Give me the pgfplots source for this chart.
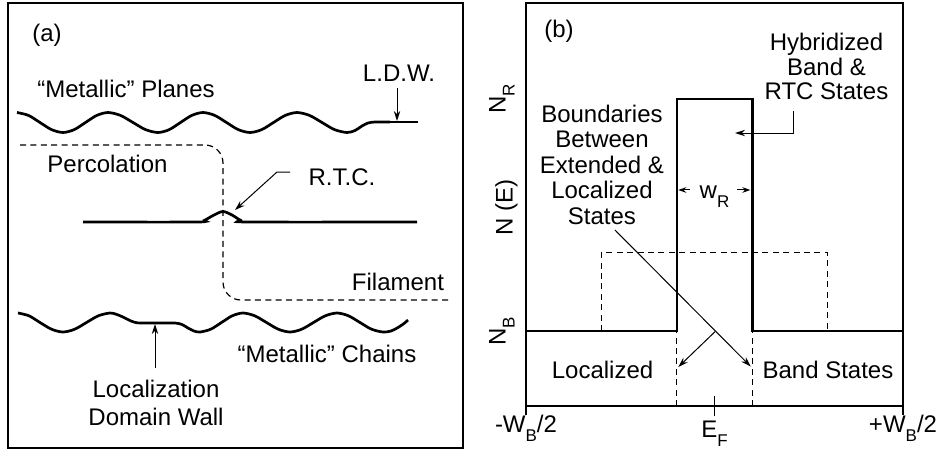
\documentclass[border=0pt]{standalone}
\usepackage{fontspec}
\setmainfont{Liberation Sans}
\usepackage{pgfplots}
\pgfplotsset{compat=1.18}
\usetikzlibrary{arrows.meta}
\newcommand\sub[1]{\raisebox{-4.5pt}{\fontsize{8.5}{9}\selectfont #1}}
\begin{document}
\fontsize{12}{13}\selectfont
\begin{tikzpicture}[font=\fontsize{12}{13}\selectfont]
\useasboundingbox (0,0) rectangle (470.5pt,-227.5pt);
% ---------------- panel (a) ----------------
\begin{axis}[at={(4pt,-1.5pt)}, anchor=north west, scale only axis,
  width=227.5pt, height=222.5pt, xmin=8, xmax=463, ymin=3, ymax=448,
  y dir=reverse, xtick=\empty, ytick=\empty,
  axis line style={line width=0.8pt}, clip=false]
% "Metallic" planes
\addplot[line width=1.35pt, smooth, tension=0.5] coordinates {
 (17,112.5)(28.5,115.4)(40,122.5)(51.5,129.6)(63,132.5)
 (74.25,129.6)(85.5,122.5)(96.75,115.4)(108,112.5)
 (120.5,115.4)(133,122.5)(145.5,129.6)(158,132.5)
 (169.25,129.6)(180.5,122.5)(191.75,115.4)(203,112.5)
 (214.75,115.4)(226.5,122.5)(238.25,129.6)(250,132.5)
 (261.75,129.6)(273.5,122.5)(285.25,115.4)(297,112.5)
 (309.5,115.4)(322,122.5)(334.5,129.6)(347,132.5)
 (355,130.5)(362,126)(368,123)(375,122)(390,122)};
\addplot[line width=1.35pt] coordinates {(390,122)(418,122)};
% L.D.W. arrow
\addplot[line width=0.5pt, -{Stealth[length=5pt,width=3.2pt]}] coordinates {(397,88)(397,121)};
% percolation / filament dashed path
\addplot[line width=0.6pt, dash pattern=on 3pt off 2.2pt, rounded corners=9pt] coordinates {(20,145)(223,145)(223,300)(452,300)};
% R.T.C. line
\addplot[line width=1.35pt, smooth, tension=0.5] coordinates {
 (83,222)(196,222)(204,220.5)(214,215)(223,211.5)(232,215)(241,220.5)(250,222)(417,222)};
\addplot[line width=0.5pt, -{Stealth[length=5pt,width=3.2pt]}] coordinates {(290,172)(277,172)(235,210)};
% "Metallic" chains
\addplot[line width=1.35pt, smooth, tension=0.5] coordinates {
 (18,313)(29,315.8)(40,322.5)(51.5,329.2)(63,332)
 (74.75,329.2)(86.5,322.5)(98.25,315.8)(110,313)
 (117,314.5)(124,317.5)(131,321)(137,322.8)(145,323)(160,323)(175,323)
 (182,324.5)(188,328)(194,331)(200,332)
 (210.75,329.2)(221.5,322.5)(232.25,315.8)(243,313)
 (254.75,315.8)(266.5,322.5)(278.25,329.2)(290,332)
 (301.75,329.2)(313.5,322.5)(325.25,315.8)(337,313)
 (348.5,315.8)(360,322.5)(371.5,329.2)(383,332)
 (391,331)(398,327.5)(404,323.5)(408,320)};
% domain wall arrow
\addplot[line width=0.5pt, -{Stealth[length=5pt,width=3.2pt]}] coordinates {(155,368)(155,324)};
% labels
\node[inner sep=0] at (axis cs:47,35) {(a)};
\node[inner sep=0] at (axis cs:126,89) {``Metallic'' Planes};
\node[inner sep=0] at (axis cs:399,73) {L.D.W.};
\node[inner sep=0] at (axis cs:107.5,163.5) {Percolation};
\node[inner sep=0] at (axis cs:342,177) {R.T.C.};
\node[inner sep=0] at (axis cs:398,281.5) {Filament};
\node[inner sep=0] at (axis cs:327,353.5) {``Metallic'' Chains};
\node[inner sep=0, align=center, font=\fontsize{12}{14}\selectfont] at (axis cs:156,402.5) {Localization\\Domain Wall};
\end{axis}
% ---------------- panel (b) ----------------
\begin{axis}[at={(263pt,-1.5pt)}, anchor=north west, scale only axis,
  width=188.5pt, height=201.5pt, xmin=-1, xmax=1, ymin=0, ymax=1,
  axis line style={line width=0.75pt},
  xtick={-1,1}, xticklabels={-W\sub{B}/2,+W\sub{B}/2},
  extra x ticks={0}, extra x tick labels={E\sub{F}},
  extra x tick style={tick align=center, major tick length=10pt,
     xticklabel style={yshift=-2pt}},
  xtick pos=bottom, ytick pos=left, tick align=outside, major tick length=4.5pt,
  tick style={line width=0.6pt, black},
  xticklabel style={anchor=base, yshift=-8.5pt},
  ytick={0.186,0.762}, yticklabels={N\sub{B},N\sub{R}},
  ytick style={draw=none},
  yticklabel style={xshift=3pt, rotate=90, anchor=south},
  clip=false]
% hybridized DOS (solid)
\addplot[line width=1.3pt] coordinates {(-1,0.186)(-0.2,0.186)(-0.2,0.762)(0.2,0.762)(0.2,0.186)(1,0.186)};
% pure band DOS (dashed)
\addplot[line width=0.6pt, dash pattern=on 3pt off 2.2pt] coordinates {(-0.6,0.186)(-0.6,0.38)(0.6,0.38)(0.6,0.186)};
\addplot[line width=0.6pt, dash pattern=on 3pt off 2.2pt] coordinates {(-0.2,0)(-0.2,0.186)};
\addplot[line width=0.6pt, dash pattern=on 3pt off 2.2pt] coordinates {(0.2,0)(0.2,0.186)};
% annotation arrows
\addplot[line width=0.5pt, -{Stealth[length=5pt,width=3.2pt]}] coordinates {(0.4164,0.732)(0.4164,0.6774)(0.109,0.6774)};
\addplot[line width=0.5pt, -{Stealth[length=5pt,width=3.2pt]}] coordinates {(-0.528,0.4367)(0.192,0.098)};
\addplot[line width=0.5pt, -{Stealth[length=5pt,width=3.2pt]}] coordinates {(0.0027,0.1844)(-0.192,0.0968)};
\addplot[line width=0.5pt, -{Stealth[length=4pt,width=2.8pt]}] coordinates {(-0.13,0.536)(-0.192,0.536)};
\addplot[line width=0.5pt, -{Stealth[length=4pt,width=2.8pt]}] coordinates {(0.12,0.536)(0.19,0.536)};
% labels
\node[inner sep=0] at (axis cs:-0.825,0.929) {(b)};
\node[inner sep=0, align=center, font=\fontsize{12}{12.25}\selectfont] at (axis cs:0.594,0.842) {Hybridized\\Band \&\\RTC States};
\node[inner sep=0, align=center, font=\fontsize{12}{12.75}\selectfont] at (axis cs:-0.597,0.599) {Boundaries\\Between\\Extended \&\\Localized\\States};
\node[inner sep=0] at (axis cs:0,0.52) {w\sub{R}};
\node[inner sep=0] at (axis cs:-0.594,0.0893) {Localized};
\node[inner sep=0] at (axis cs:0.602,0.0893) {Band States};
\node[rotate=90, anchor=south] at (axis cs:-1,0.4926) {N (E)};
\end{axis}
\end{tikzpicture}
\end{document}
